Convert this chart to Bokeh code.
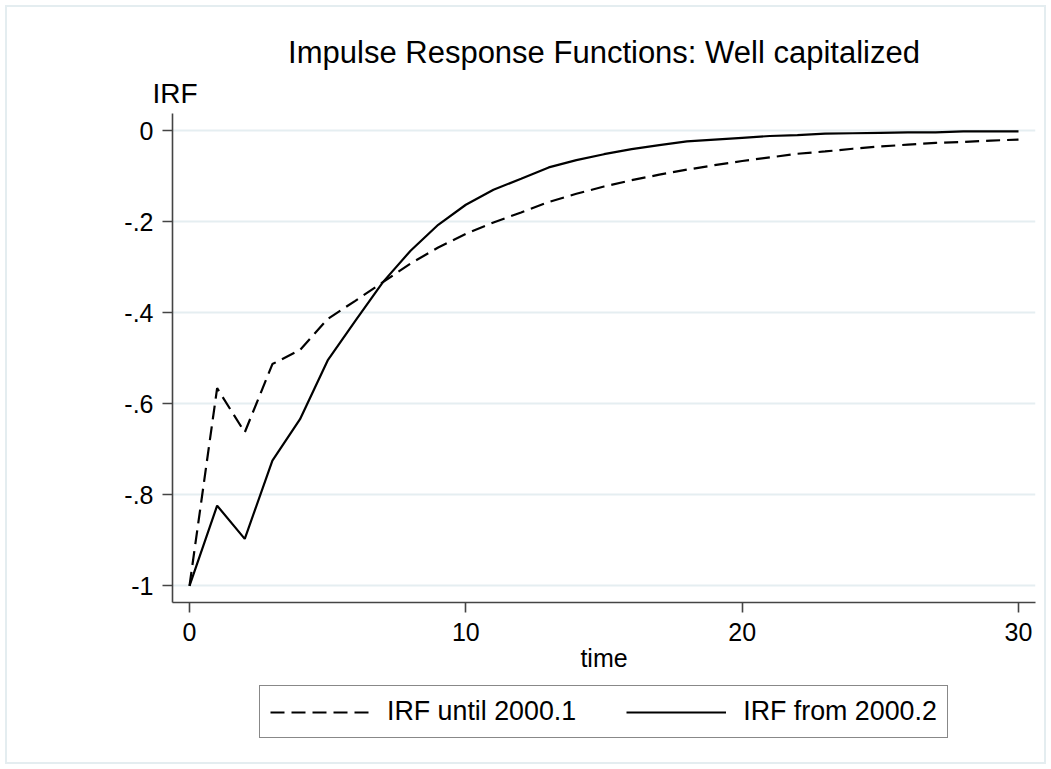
from bokeh.plotting import figure
from bokeh.models import FixedTicker, Range1d, Legend, LegendItem, Title
from bokeh.layouts import column
from bokeh.embed import file_html
from bokeh.resources import INLINE

# ---- data ----
time = list(range(31))
irf_until_2000_1 = [-1.000, -0.566, -0.663, -0.513, -0.482, -0.414, -0.374, -0.333,
                    -0.292, -0.257, -0.227, -0.202, -0.180, -0.157, -0.139, -0.123,
                    -0.109, -0.097, -0.086, -0.076, -0.067, -0.059, -0.051, -0.046,
                    -0.040, -0.035, -0.031, -0.027, -0.025, -0.022, -0.020]
irf_from_2000_2 = [-1.000, -0.824, -0.897, -0.725, -0.634, -0.505, -0.418, -0.333,
                   -0.264, -0.207, -0.163, -0.130, -0.106, -0.081, -0.065, -0.052,
                   -0.041, -0.032, -0.024, -0.020, -0.016, -0.012, -0.010, -0.007,
                   -0.006, -0.005, -0.004, -0.004, -0.002, -0.002, -0.002]
series_names = ["IRF until 2000.1", "IRF from 2000.2"]
x_ticks = [0, 10, 20, 30]
y_ticks = [0, -0.2, -0.4, -0.6, -0.8, -1]
y_tick_labels = ["0", "-.2", "-.4", "-.6", "-.8", "-1"]
title_text = "Impulse Response Functions: Well capitalized"
y_title = "IRF"
x_title = "time"

FONT = "Liberation Sans"
DASH = "14 7"

# ---------------- main plot ----------------
p = figure(width=1051, height=685, output_backend="svg", toolbar_location=None,
           title=None,
           x_range=Range1d(-0.615, 30.615), y_range=Range1d(-1.0367, 0.0374),
           min_border_left=172, min_border_right=16, min_border_top=113,
           min_border_bottom=83)
p.background_fill_color = "white"
p.border_fill_alpha = 0
p.outline_line_color = None

p.xgrid.visible = False
p.ygrid.ticker = FixedTicker(ticks=y_ticks)
p.ygrid.grid_line_color = "#e5eef1"
p.ygrid.grid_line_width = 2

for ax in (p.xaxis, p.yaxis):
    ax.axis_line_color = "#444444"
    ax.axis_line_width = 1.6
    ax.major_tick_line_color = "#444444"
    ax.major_tick_line_width = 1.6
    ax.major_tick_out = 10
    ax.major_tick_in = 0
    ax.minor_tick_line_color = None
    ax.major_label_text_font = FONT
    ax.major_label_text_font_size = "25px"
    ax.major_label_text_color = "black"
p.xaxis.ticker = FixedTicker(ticks=x_ticks)
p.xaxis.major_label_standoff = 10
p.xaxis.axis_label = x_title
p.xaxis.axis_label_text_font = FONT
p.xaxis.axis_label_text_font_size = "25px"
p.xaxis.axis_label_text_font_style = "normal"
p.xaxis.axis_label_text_color = "black"
p.xaxis.axis_label_standoff = 0
p.yaxis.ticker = FixedTicker(ticks=y_ticks)
p.yaxis.major_label_overrides = {t: l for t, l in zip(y_ticks, y_tick_labels)}
p.yaxis.major_label_standoff = 9

p.line(time, irf_until_2000_1, line_color="black", line_width=2.2, line_dash=DASH)
p.line(time, irf_from_2000_2, line_color="black", line_width=2.2)

# titles above the plot area (first added = closest to the frame)
p.add_layout(Title(text=y_title, align="left", offset=-20, standoff=10,
                   text_font=FONT, text_font_size="28px",
                   text_font_style="normal", text_color="black"), "above")
p.add_layout(Title(text=title_text, align="center", standoff=1,
                   text_font=FONT, text_font_size="31px",
                   text_font_style="normal", text_color="black"), "above")

# ---------------- legend strip (its frame is aligned with the plot's) ----------------
q = figure(width=1051, height=84, output_backend="svg", toolbar_location=None,
           title=None, x_axis_type=None, y_axis_type=None,
           x_range=Range1d(0, 30), y_range=Range1d(1, 2),
           min_border=0, min_border_left=0, min_border_right=0,
           min_border_top=0, min_border_bottom=0)
q.background_fill_alpha = 0
q.border_fill_alpha = 0
q.outline_line_color = None
# key renderers: same series, kept outside this strip's visible range
k1 = q.line(time, irf_until_2000_1, line_color="black", line_width=2.2, line_dash=DASH)
k2 = q.line(time, irf_from_2000_2, line_color="black", line_width=2.2)

lg = Legend(items=[LegendItem(label=series_names[0], renderers=[k1]),
                   LegendItem(label=series_names[1], renderers=[k2])],
            orientation="horizontal", location=(87, 31))
lg.margin = 0
lg.padding = 10
lg.spacing = 50
lg.glyph_width = 100
lg.glyph_height = 20
lg.label_standoff = 17
lg.label_text_font = FONT
lg.label_text_font_size = "26.8px"
lg.label_text_color = "black"
lg.border_line_color = "#111111"
lg.border_line_width = 1.2
lg.background_fill_color = "white"
lg.background_fill_alpha = 1
q.add_layout(lg, "center")

layout = column(p, q, spacing=0)
layout.styles = {"background-color": "white",
                 "box-shadow": "inset 0 0 0 5px white, inset 0 0 0 7px #e4edf0"}

open("out.html", "w").write(file_html(layout, INLINE))
